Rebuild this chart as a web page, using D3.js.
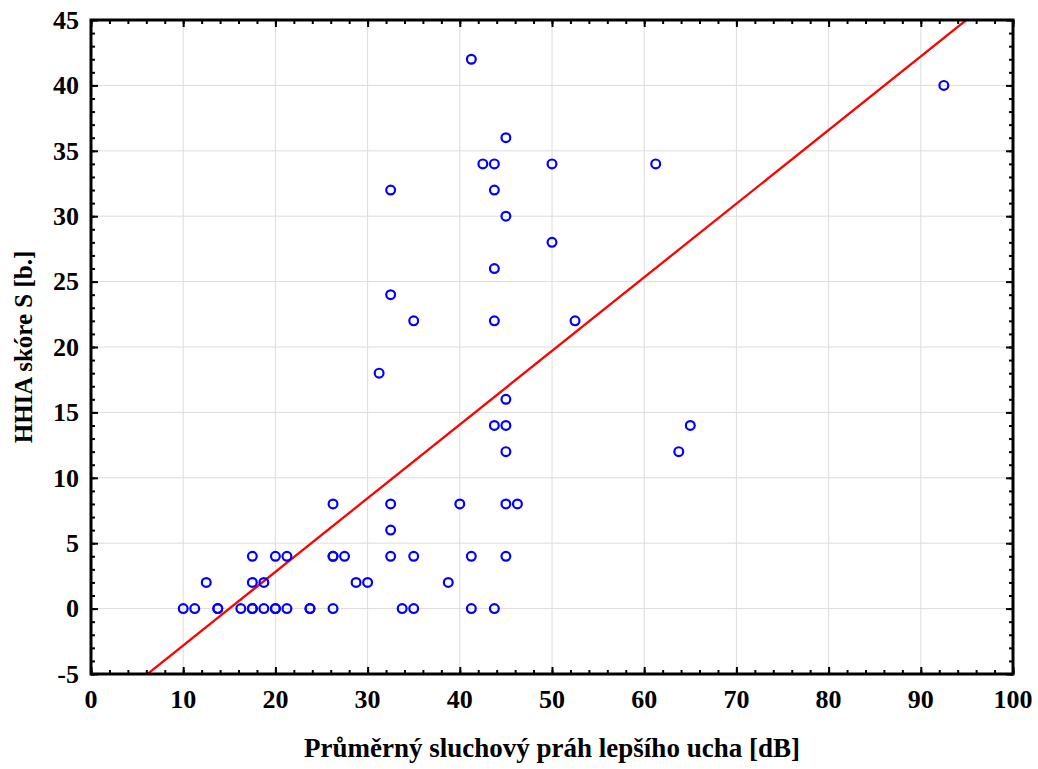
<!DOCTYPE html>
<html>
<head>
<meta charset="utf-8">
<script src="https://cdn.jsdelivr.net/npm/d3@7"></script>
<style>
  html, body { margin: 0; padding: 0; background: #fff; }
  svg text { font-family: "Liberation Serif", "Times New Roman", serif; font-weight: bold; fill: #000; }
</style>
</head>
<body>
<svg id="chart" width="1038" height="769"></svg>
<script>
// Better-ear average hearing threshold [dB] and HHIA score S for each subject
const thresholdDb = [
  10, 11.25, 13.75, 13.75, 16.25, 17.5, 17.5, 18.75, 20, 20, 21.25, 23.75, 23.75, 26.25, 33.75, 35, 41.25, 43.75,
  12.5, 17.5, 18.75, 28.75, 30, 38.75,
  17.5, 20, 21.25, 26.25, 26.25, 27.5, 32.5, 35, 41.25, 45,
  32.5,
  26.25, 32.5, 40, 45, 46.25,
  45, 63.75,
  43.75, 45, 65,
  45,
  31.25,
  35, 43.75, 52.5,
  32.5,
  43.75,
  50,
  45,
  32.5, 43.75,
  42.5, 43.75, 50, 61.25,
  45,
  92.5,
  41.25
];
const hhiaScore = [
  0, 0, 0, 0, 0, 0, 0, 0, 0, 0, 0, 0, 0, 0, 0, 0, 0, 0,
  2, 2, 2, 2, 2, 2,
  4, 4, 4, 4, 4, 4, 4, 4, 4, 4,
  6,
  8, 8, 8, 8, 8,
  12, 12,
  14, 14, 14,
  16,
  18,
  22, 22, 22,
  24,
  26,
  28,
  30,
  32, 32,
  34, 34, 34, 34,
  36,
  40,
  42
];

// Linear fit: S = intercept + slope * threshold
const fitIntercept = [-8.45];
const fitSlope = [0.563];

const xTicks = [0, 10, 20, 30, 40, 50, 60, 70, 80, 90, 100];
const yTicks = [-5, 0, 5, 10, 15, 20, 25, 30, 35, 40, 45];
const xTitle = "Průměrný sluchový práh lepšího ucha [dB]";
const yTitle = "HHIA skóre S [b.]";

const W = 1038, H = 769;
const margin = { left: 91, right: 25, top: 20, bottom: 95 };
const svg = d3.select("#chart");

const x = d3.scaleLinear().domain([0, 100]).range([margin.left, W - margin.right]);
const y = d3.scaleLinear().domain([-5, 45]).range([H - margin.bottom, margin.top]);

const x0 = x.range()[0], x1 = x.range()[1];
const y0 = y.range()[0], y1 = y.range()[1];

// Grid
const grid = svg.append("g").attr("stroke", "#dcdcdc").attr("stroke-width", 1);
grid.selectAll("line.gx").data(xTicks.slice(1, -1)).join("line")
  .attr("x1", d => x(d)).attr("x2", d => x(d)).attr("y1", y1).attr("y2", y0);
grid.selectAll("line.gy").data(yTicks.slice(1, -1)).join("line")
  .attr("y1", d => y(d)).attr("y2", d => y(d)).attr("x1", x0).attr("x2", x1);

// Clip region for the plot
svg.append("clipPath").attr("id", "plotclip")
  .append("rect").attr("x", x0).attr("y", y1).attr("width", x1 - x0).attr("height", y0 - y1);

// Regression line
const fitLine = d3.line().x(d => x(d)).y(d => y(fitIntercept[0] + fitSlope[0] * d));
svg.append("path")
  .attr("clip-path", "url(#plotclip)")
  .attr("d", fitLine([0, 100]))
  .attr("fill", "none").attr("stroke", "#ff0000").attr("stroke-width", 2.3);

// Points
const pts = thresholdDb.map((d, i) => ({ t: d, s: hhiaScore[i] }));
svg.append("g").selectAll("circle").data(pts).join("circle")
  .attr("cx", d => x(d.t)).attr("cy", d => y(d.s)).attr("r", 4.4)
  .attr("fill", "none").attr("stroke", "#0000ff").attr("stroke-width", 2.2);

// Axes: ticks pointing inward on all four sides
const minorX = d3.range(0, 101, 2), minorY = d3.range(-5, 46, 1);
function axisSide(axisGen, tx, ty) {
  const g = svg.append("g").attr("transform", `translate(${tx},${ty})`).call(axisGen);
  g.select(".domain").remove();
  g.selectAll("line").attr("stroke", "#000").attr("stroke-width", 2);
  return g;
}
axisSide(d3.axisBottom(x).tickValues(minorX).tickSize(-4).tickFormat(""), 0, y0);
axisSide(d3.axisBottom(x).tickValues(xTicks).tickSize(-7).tickFormat(""), 0, y0);
axisSide(d3.axisTop(x).tickValues(minorX).tickSize(-4).tickFormat(""), 0, y1);
axisSide(d3.axisTop(x).tickValues(xTicks).tickSize(-7).tickFormat(""), 0, y1);
axisSide(d3.axisLeft(y).tickValues(minorY).tickSize(-4).tickFormat(""), x0, 0);
axisSide(d3.axisLeft(y).tickValues(yTicks).tickSize(-7).tickFormat(""), x0, 0);
axisSide(d3.axisRight(y).tickValues(minorY).tickSize(-4).tickFormat(""), x1, 0);
axisSide(d3.axisRight(y).tickValues(yTicks).tickSize(-7).tickFormat(""), x1, 0);

// Frame
svg.append("rect").attr("x", x0).attr("y", y1).attr("width", x1 - x0).attr("height", y0 - y1)
  .attr("fill", "none").attr("stroke", "#000").attr("stroke-width", 3);

// Tick labels
svg.append("g").selectAll("text").data(xTicks).join("text")
  .attr("x", d => x(d)).attr("y", y0 + 34)
  .attr("text-anchor", "middle").attr("font-size", 26)
  .text(d => d);
svg.append("g").selectAll("text").data(yTicks).join("text")
  .attr("x", x0 - 12).attr("y", d => y(d)).attr("dy", "0.34em")
  .attr("text-anchor", "end").attr("font-size", 26)
  .text(d => d);

// Axis titles
svg.append("text")
  .attr("x", (x0 + x1) / 2).attr("y", 757)
  .attr("text-anchor", "middle").attr("font-size", 27)
  .text(xTitle);
svg.append("text")
  .attr("transform", `translate(32,${(y0 + y1) / 2}) rotate(-90)`)
  .attr("text-anchor", "middle").attr("font-size", 25)
  .text(yTitle);
</script>
</body>
</html>
